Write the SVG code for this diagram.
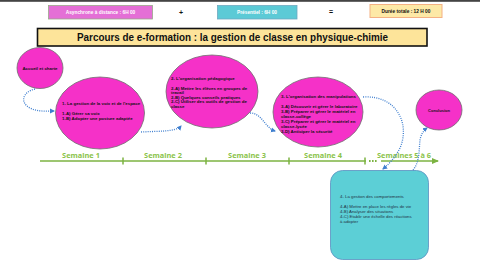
<svg xmlns="http://www.w3.org/2000/svg" width="480" height="270" viewBox="0 0 480 270">
<defs>
<style>
.circ{fill:#f531c8;stroke:#6e6e6e;stroke-width:0.8}
.t{font-family:"Liberation Sans",Arial,sans-serif;font-weight:bold;fill:#111}
.ct{font-size:4.4px}
.conn{fill:none;stroke:#3f7fcf;stroke-width:1.3;stroke-dasharray:1 1.2}
.wk{font-family:"Open Sans","Liberation Sans",sans-serif;font-weight:bold;font-size:7.4px;fill:#8bc34a;text-anchor:middle}
.tl{stroke:#7cb342;stroke-width:1.5;fill:none}
.bt{font-family:"Liberation Sans",Arial,sans-serif;font-size:4.3px;fill:#234}
</style>
<marker id="ah" markerWidth="6" markerHeight="6" refX="4" refY="3" orient="auto" markerUnits="userSpaceOnUse">
<path d="M0,0.5 L5,3 L0,5.5 Z" fill="#3f7fcf"/>
</marker>
<marker id="gah" markerWidth="8" markerHeight="8" refX="6" refY="4" orient="auto" markerUnits="userSpaceOnUse">
<path d="M0,1 L7,4 L0,7 Z" fill="#7cb342"/>
</marker>
</defs>
<rect x="0" y="0" width="480" height="270" fill="#ffffff"/>
<rect x="0" y="0" width="480" height="1.8" fill="#444"/>

<g id="header">
<rect x="48.5" y="5.5" width="104" height="13.5" fill="#e46fd6" stroke="#9aa88a" stroke-width="0.8"/>
<text class="t" x="100.5" y="14.2" font-size="4.8" style="fill:#fff" text-anchor="middle">Asynchrone à distance : 6H 00</text>
<text class="t" x="181" y="15" font-size="7" text-anchor="middle">+</text>
<rect x="217.5" y="5.5" width="79.5" height="13.5" fill="#5ccad6" stroke="#6fa8c0" stroke-width="0.8"/>
<text class="t" x="257" y="14.2" font-size="4.8" style="fill:#fff" text-anchor="middle">Présentiel : 6H 00</text>
<text class="t" x="331" y="13.5" font-size="7" text-anchor="middle">=</text>
<rect x="370" y="4.5" width="72" height="13" fill="#fde9a6" stroke="#f4b183" stroke-width="1"/>
<text class="t" x="406" y="13" font-size="4.8" text-anchor="middle">Durée totale : 12 H 00</text>
</g>

<g id="title">
<rect x="37.5" y="28.5" width="389.5" height="17.5" fill="#fde49a" stroke="#111" stroke-width="1.6"/>
<text class="t" x="232.5" y="40.5" font-size="10.2" text-anchor="middle" textLength="311" lengthAdjust="spacingAndGlyphs">Parcours de e-formation : la gestion de classe en physique-chimie</text>
</g>

<g id="timeline">
<line class="tl" x1="40" y1="161" x2="366" y2="161"/>
<line class="tl" x1="123" y1="157.5" x2="123" y2="164.5"/>
<line class="tl" x1="206" y1="157.5" x2="206" y2="164.5"/>
<line class="tl" x1="289" y1="157.5" x2="289" y2="164.5"/>
<line class="tl" x1="365" y1="157.5" x2="365" y2="164.5"/>
<line x1="369" y1="161" x2="378" y2="161" stroke="#7cb342" stroke-width="1.8" stroke-dasharray="1.6 1.4"/>
<line class="tl" x1="381" y1="161" x2="438" y2="161" marker-end="url(#gah)"/>
<text class="wk" x="81" y="157.5">Semaine 1</text>
<text class="wk" x="163" y="157.5">Semaine 2</text>
<text class="wk" x="247" y="157.5">Semaine 3</text>
<text class="wk" x="323" y="157.5">Semaine 4</text>
<text class="wk" x="404" y="157.5">Semaines 5 à 6</text>
</g>

<g id="accueil">
<ellipse class="circ" cx="40" cy="68" rx="23" ry="20.5"/>
<text class="t ct" x="40" y="69.5" text-anchor="middle">Accueil et charte</text>
</g>

<g id="seance1">
<ellipse class="circ" cx="100" cy="113" rx="44.5" ry="36"/>
<text class="t ct" x="62" y="104.5">1- La gestion de la voix et de l'espace</text>
<text class="t ct" x="62" y="114.5">1-A) Gérer sa voix</text>
<text class="t ct" x="62" y="120">1-B) Adopter une posture adaptée</text>
</g>

<g id="seance2">
<ellipse class="circ" cx="212" cy="91.5" rx="46" ry="36.5"/>
<text class="t ct" x="171" y="79.5">2- L'organisation pédagogique</text>
<text class="t ct" x="171" y="89.5">2-A) Mettre les élèves en groupes de</text>
<text class="t ct" x="171" y="94">travail</text>
<text class="t ct" x="171" y="98.5">2-B) Quelques conseils pratiques</text>
<text class="t ct" x="171" y="103">2-C) Utiliser des outils de gestion de</text>
<text class="t ct" x="171" y="107.5">classe</text>
</g>

<g id="seance3">
<ellipse class="circ" cx="318" cy="112" rx="45" ry="35"/>
<text class="t ct" x="281" y="97.5">3- L'organisation des manipulations</text>
<text class="t ct" x="281" y="108">3-A) Découvrir et gérer le laboratoire</text>
<text class="t ct" x="281" y="113">3-B) Préparer et gérer le matériel en</text>
<text class="t ct" x="281" y="118">classe-collège</text>
<text class="t ct" x="281" y="123">3-C) Préparer et gérer le matériel en</text>
<text class="t ct" x="281" y="128">classe-lycée</text>
<text class="t ct" x="281" y="133">3-D) Anticiper la sécurité</text>
</g>

<g id="conclusion">
<ellipse class="circ" cx="439" cy="110" rx="23" ry="20"/>
<text class="t" x="439" y="111.5" font-size="4" text-anchor="middle">Conclusion</text>
</g>

<g id="seance4">
<rect x="330.5" y="170.5" width="98" height="89" rx="12" ry="12" fill="#5ccfd6" stroke="#5b8fc0" stroke-width="0.8"/>
<text class="bt" x="340" y="197.5">4- La gestion des comportements</text>
<text class="bt" x="340" y="208">4-A) Mettre en place les règles de vie</text>
<text class="bt" x="340" y="213">4-B) Analyser des situations</text>
<text class="bt" x="340" y="218">4-C) Etablir une échelle des réactions</text>
<text class="bt" x="340" y="223">à adopter</text>
</g>

<g id="connectors">
<path class="conn" d="M35,89 C22,92 20,103 30,108 C38,112 46,111 54,111" marker-end="url(#ah)"/>
<path class="conn" d="M141,132 C158,131 176,132 181,126" marker-end="url(#ah)"/>
<path class="conn" d="M250,113 C262,113 265,128 275,131" marker-end="url(#ah)"/>
<path class="conn" d="M363,97 C398,95 410,125 400,148 C395,158 388,165 383,169" marker-end="url(#ah)"/>
<path class="conn" d="M413,170 C420,162 419,148 420,140 C421,134 424,130 427,128" marker-end="url(#ah)"/>
</g>
</svg>
